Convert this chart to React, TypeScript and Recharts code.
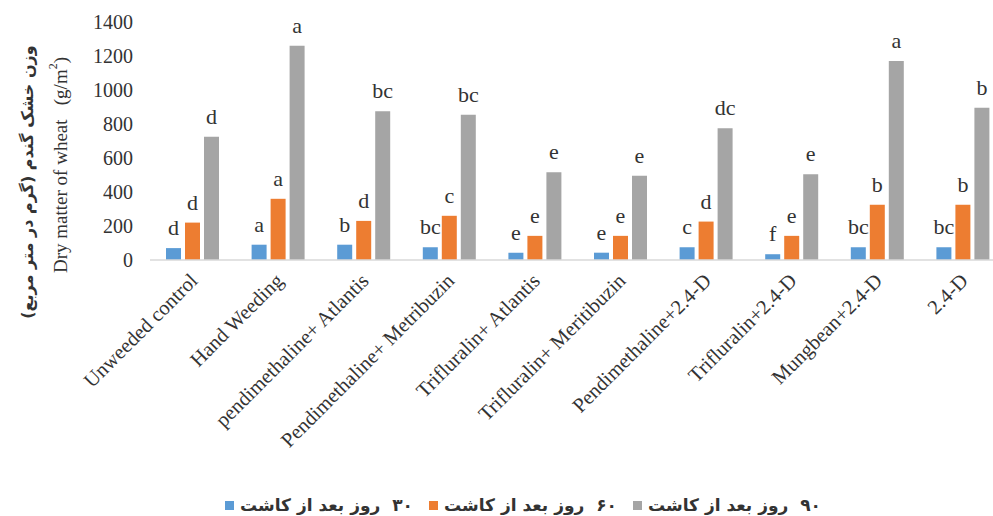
import React from 'react';
import { BarChart, Bar, XAxis, YAxis, LabelList, Legend } from 'recharts';

// Treatments on the category axis
const treatments = [
  'Unweeded control',
  'Hand Weeding',
  'pendimethaline+ Atlantis',
  'Pendimethaline+ Metribuzin',
  'Trifluralin+ Atlantis',
  'Trifluralin+ Meritibuzin',
  'Pendimethaline+2.4-D',
  'Trifluralin+2.4-D',
  'Mungbean+2.4-D',
  '2.4-D',
];

// Dry matter of wheat (g/m²) at 30, 60 and 90 days after sowing
const day30 = [70, 90, 90, 75, 43, 43, 75, 34, 75, 75];
const day60 = [220, 360, 230, 260, 142, 142, 226, 142, 325, 325];
const day90 = [725, 1260, 875, 855, 516, 495, 775, 505, 1170, 895];

// Mean-comparison letters above each bar
const letters30 = ['d', 'a', 'b', 'bc', 'e', 'e', 'c', 'f', 'bc', 'bc'];
const letters60 = ['d', 'a', 'd', 'c', 'e', 'e', 'd', 'e', 'b', 'b'];
const letters90 = ['d', 'a', 'bc', 'bc', 'e', 'e', 'dc', 'e', 'a', 'b'];

const seriesNames = ['۳۰  روز بعد از کاشت', '۶۰  روز بعد از کاشت', '۹۰  روز بعد از کاشت'];
const seriesColors = ['#5B9BD5', '#ED7D31', '#A5A5A5'];

const yTicks = [0, 200, 400, 600, 800, 1000, 1200, 1400];

const data = treatments.map((treatment, i) => ({
  treatment,
  d30: day30[i],
  d60: day60[i],
  d90: day90[i],
  l30: letters30[i],
  l60: letters60[i],
  l90: letters90[i],
}));

const serif = '"Liberation Serif", "Times New Roman", serif';
const textColor = '#333333';

const CategoryTick = (props: any) => {
  const { x, y, payload } = props;
  const ax = x + 6;
  const ay = y + 22;
  return (
    <text
      x={ax}
      y={ay}
      transform={`rotate(-45, ${ax}, ${ay})`}
      textAnchor="end"
      fontFamily={serif}
      fontSize={20.5}
      fill={textColor}
    >
      {payload.value}
    </text>
  );
};

const AxisTitles = () => (
  <g>
    <text
      x={27}
      y={182}
      transform="rotate(-90, 27, 182)"
      textAnchor="middle"
      dominantBaseline="central"
      fontFamily='"DejaVu Sans", sans-serif'
      fontWeight="bold"
      fontSize={16}
      fill={textColor}
      direction="rtl"
    >
      وزن خشک گندم (گرم در متر مربع)
    </text>
    <text
      x={60}
      y={165}
      transform="rotate(-90, 60, 165)"
      textAnchor="middle"
      dominantBaseline="central"
      fontFamily={serif}
      fontSize={19}
      fill={textColor}
      style={{ whiteSpace: 'pre' }}
    >
      {'Dry matter of wheat   (g/m'}
      <tspan dy={-7} fontSize={12}>2</tspan>
      <tspan dy={7}>)</tspan>
    </text>
  </g>
);

const renderLegend = () => (
  <div
    style={{
      height: 30,
      display: 'flex',
      alignItems: 'center',
      paddingLeft: 225,
      fontFamily: '"DejaVu Sans", sans-serif',
      fontWeight: 'bold',
      fontSize: 17,
      color: textColor,
    }}
  >
    {seriesNames.map((name, i) => (
      <div key={name} style={{ display: 'flex', alignItems: 'center', width: 204 }}>
        <span
          style={{
            display: 'inline-block',
            width: 9,
            height: 9,
            background: seriesColors[i],
            marginRight: 6,
          }}
        />
        <span dir="rtl" style={{ whiteSpace: 'pre' }}>{name}</span>
      </div>
    ))}
  </div>
);

const labelStyle = { fontFamily: serif, fontSize: 22, fill: textColor };

export default function App() {
  return (
    <div
      style={{
        position: 'absolute',
        left: 0,
        top: 0,
        width: 993,
        height: 516,
        overflow: 'hidden',
        background: '#ffffff',
      }}
    >
      <BarChart
        width={1010}
        height={516}
        data={data}
        margin={{ top: 22, right: 4, left: 0, bottom: 0 }}
        barSize={15}
        barGap={4}
      >
        <XAxis
          dataKey="treatment"
          height={226}
          interval={0}
          tickLine={false}
          tickSize={0}
          tickMargin={0}
          axisLine={{ stroke: '#d9d9d9', strokeWidth: 1.5 }}
          tick={<CategoryTick />}
        />
        <YAxis
          width={150}
          domain={[0, 1400]}
          ticks={yTicks}
          axisLine={false}
          tickLine={false}
          tickSize={0}
          tickMargin={17}
          tick={{ fontFamily: serif, fontSize: 20, fill: textColor }}
          label={<AxisTitles />}
        />
        <Legend
          verticalAlign="bottom"
          content={renderLegend}
          wrapperStyle={{ left: 0, width: 993, top: 490, bottom: 'auto' }}
        />
        <Bar dataKey="d30" name={seriesNames[0]} fill={seriesColors[0]} isAnimationActive={false}>
          <LabelList dataKey="l30" position="top" offset={13} style={labelStyle} />
        </Bar>
        <Bar dataKey="d60" name={seriesNames[1]} fill={seriesColors[1]} isAnimationActive={false}>
          <LabelList dataKey="l60" position="top" offset={13} style={labelStyle} />
        </Bar>
        <Bar dataKey="d90" name={seriesNames[2]} fill={seriesColors[2]} isAnimationActive={false}>
          <LabelList dataKey="l90" position="top" offset={13} style={labelStyle} />
        </Bar>
      </BarChart>
    </div>
  );
}
